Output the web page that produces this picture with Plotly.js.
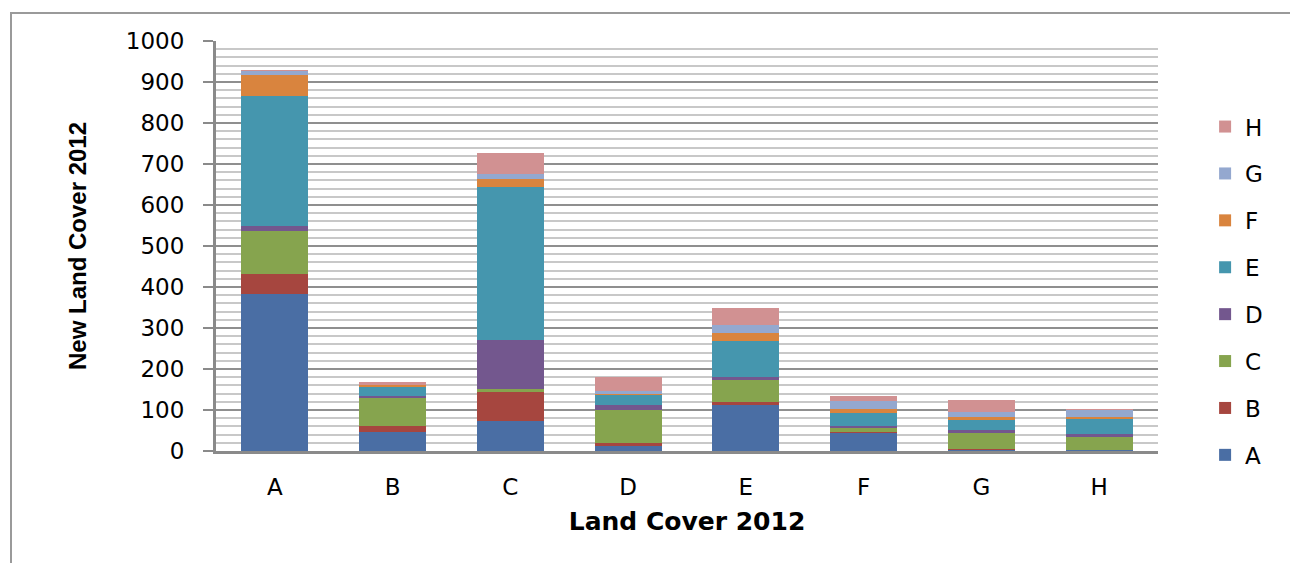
<!DOCTYPE html>
<html>
<head>
<meta charset="utf-8">
<script src="https://cdn.plot.ly/plotly-3.0.1.min.js"></script>
<style>
html,body{margin:0;padding:0;background:#fff;}
#wrap{position:relative;width:1290px;height:563px;overflow:hidden;}
#chart{position:absolute;left:0;top:0;width:1290px;height:563px;}
#frame{position:absolute;left:10px;top:12px;width:1300px;height:600px;border-left:2px solid #9a9a9a;border-top:2px solid #9a9a9a;pointer-events:none;}
</style>
</head>
<body>
<div id="wrap"><div id="chart"></div><div id="frame"></div></div>
<script>
const categories = ["A","B","C","D","E","F","G","H"];
const seriesNames = ["A","B","C","D","E","F","G","H"];
const valsA = [382, 47, 73, 12, 113, 44, 2, 2];
const valsB = [49, 13, 71, 8, 6, 3, 3, 1];
const valsC = [106, 70, 8, 81, 53, 8, 40, 30];
const valsD = [13, 3, 119, 11, 9, 7, 7, 9];
const valsE = [315, 24, 374, 24, 88, 31, 24, 37];
const valsF = [53, 3, 19, 4, 18, 9, 7, 4];
const valsG = [10, 2, 12, 7, 20, 21, 12, 16];
const valsH = [2, 6, 51, 33, 43, 10, 29, 4];
const yTicks = [0,100,200,300,400,500,600,700,800,900,1000];

const seriesValues = [valsA, valsB, valsC, valsD, valsE, valsF, valsG, valsH];
const colors = ["#4A6EA4","#A6463F","#86A44E","#73578E","#4596AE","#D9843E","#94A8CF","#D19192"];

const traces = seriesNames.map((n, i) => ({
  type: "bar",
  name: n,
  x: categories,
  y: seriesValues[i],
  marker: {color: colors[i], line: {width: 0}},
  legendgroup: "g" + n,
  legendrank: 100 * (seriesNames.length - i),
  hoverinfo: "skip"
}));

const tickFont = {family: "DejaVu Sans, Verdana, sans-serif", size: 23, color: "#000"};

const layout = {
  width: 1290, height: 563,
  margin: {l: 216, r: 132, t: 41, b: 112},
  paper_bgcolor: "#fff", plot_bgcolor: "#fff",
  barmode: "stack",
  bargap: 0.43,
  showlegend: true,
  legend: {
    traceorder: "grouped",
    tracegroupgap: 14,
    x: 1.05, xanchor: "left",
    y: 0.39, yanchor: "middle",
    font: tickFont,
    itemwidth: 30
  },
  xaxis: {
    type: "category",
    showgrid: false,
    showline: true, linecolor: "#8a8a8a", linewidth: 3,
    ticks: "", tickfont: tickFont,
    ticklabelstandoff: 13,
    title: {text: "Land Cover 2012", font: {family: "DejaVu Sans, Verdana, sans-serif", size: 25, color: "#000", weight: "bold"}, standoff: 14}
  },
  yaxis: {
    range: [0, 1000],
    tickvals: yTicks,
    ticktext: yTicks.map(String),
    showgrid: true, gridcolor: "#8f8f8f", gridwidth: 2,
    minor: {dtick: 20, showgrid: true, gridcolor: "#c8c8c8", gridwidth: 2},
    showline: true, linecolor: "#8a8a8a", linewidth: 3,
    ticks: "outside", ticklen: 10, tickcolor: "#8a8a8a", tickwidth: 2,
    tickfont: tickFont,
    ticklabelstandoff: 14,
    zeroline: false,
    title: {text: "New Land Cover 2012", font: {family: "Liberation Sans, Arial, sans-serif", size: 24, color: "#000", weight: "bold"}, standoff: 33}
  }
};

Plotly.newPlot("chart", traces, layout, {staticPlot: true, displayModeBar: false});
</script>
</body>
</html>
